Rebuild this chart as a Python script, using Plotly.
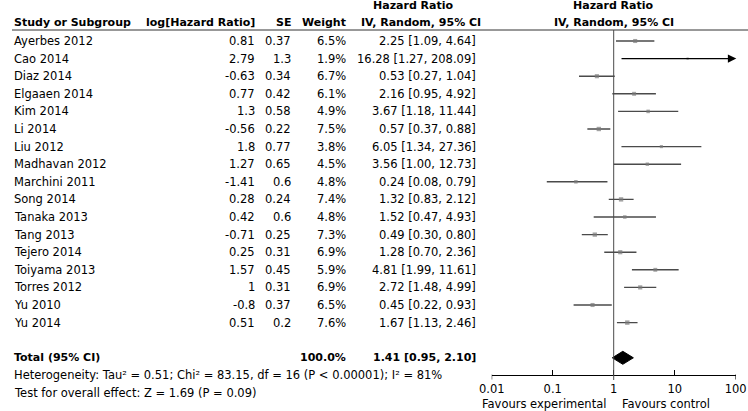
import math
import plotly.graph_objects as go

# ---------------- data ----------------
studies = ["Ayerbes 2012", "Cao 2014", "Diaz 2014", "Elgaaen 2014", "Kim 2014", "Li 2014",
           "Liu 2012", "Madhavan 2012", "Marchini 2011", "Song 2014", "Tanaka 2013",
           "Tang 2013", "Tejero 2014", "Toiyama 2013", "Torres 2012", "Yu 2010", "Yu 2014"]
log_hr = [0.81, 2.79, -0.63, 0.77, 1.3, -0.56, 1.8, 1.27, -1.41, 0.28, 0.42, -0.71, 0.25, 1.57, 1.0, -0.8, 0.51]
se = [0.37, 1.3, 0.34, 0.42, 0.58, 0.22, 0.77, 0.65, 0.6, 0.24, 0.6, 0.25, 0.31, 0.45, 0.31, 0.37, 0.2]
weights = [6.5, 1.9, 6.7, 6.1, 4.9, 7.5, 3.8, 4.5, 4.8, 7.4, 4.8, 7.3, 6.9, 5.9, 6.9, 6.5, 7.6]
hr = [2.25, 16.28, 0.53, 2.16, 3.67, 0.57, 6.05, 3.56, 0.24, 1.32, 1.52, 0.49, 1.28, 4.81, 2.72, 0.45, 1.67]
ci_low = [1.09, 1.27, 0.27, 0.95, 1.18, 0.37, 1.34, 1.00, 0.08, 0.83, 0.47, 0.30, 0.70, 1.99, 1.48, 0.22, 1.13]
ci_high = [4.64, 208.09, 1.04, 4.92, 11.44, 0.88, 27.36, 12.73, 0.79, 2.12, 4.93, 0.80, 2.36, 11.61, 4.99, 0.93, 2.46]

total_hr = 1.41
total_low = 0.95
total_high = 2.10
total_weight = 100.0
heterogeneity_text = "Heterogeneity: Tau² = 0.51; Chi² = 83.15, df = 16 (P < 0.00001); I² = 81%"
overall_text = "Test for overall effect: Z = 1.69 (P = 0.09)"

tick_values = [0.01, 0.1, 1, 10, 100]
tick_labels = ["0.01", "0.1", "1", "10", "100"]
axis_min, axis_max = 0.01, 100

# ---------------- layout helpers ----------------
W, H = 748, 411
ROW0, PITCH = 41.0, 17.6          # pixel of first study row, row pitch
AXIS_PX = 374.5                   # pixel of the bottom axis line
X_LEFT, X_RIGHT = 491.7, 735.7    # pixel of 0.01 and 100


def row_of(py):
    return (py - ROW0) / PITCH


def px(x):
    return x / W


def pyp(y):
    return 1 - y / H


def rp(r):
    return ROW0 + PITCH * r


REG = dict(family="DejaVu Sans", size=11.5, color="#000000")
BOLD = dict(family="DejaVu Sans", size=11, color="#000000", weight="bold")

traces = []
ann = []
shapes = []

n = len(studies)
rows = list(range(n))
total_row = n + 1
het_row = n + 2
test_row = n + 3

# CI lines
for i in rows:
    hi = min(ci_high[i], axis_max)
    if ci_high[i] > axis_max:
        ann.append(dict(x=math.log10(hi) + 0.01, y=i, ax=math.log10(ci_low[i]), ay=i,
                        xref="x", yref="y", axref="x", ayref="y", text="",
                        showarrow=True, arrowhead=2, arrowsize=1.3, arrowwidth=1.3,
                        arrowcolor="#000000", standoff=0))
    else:
        traces.append(go.Scatter(x=[ci_low[i], hi], y=[i, i], mode="lines",
                                 line=dict(color="#4a4a4a", width=1.4),
                                 hoverinfo="skip", showlegend=False))

# point estimates
traces.append(go.Scatter(x=hr, y=rows, mode="markers",
                         marker=dict(symbol="square", color="#7a7a7a",
                                     size=[1.6 * w ** 0.5 for w in weights], line=dict(width=0)),
                         hoverinfo="skip", showlegend=False, cliponaxis=False))

# pooled diamond
dh = 6.5 / PITCH
traces.append(go.Scatter(x=[total_low, total_hr, total_high, total_hr, total_low],
                         y=[total_row, total_row - dh, total_row, total_row + dh, total_row],
                         mode="lines", fill="toself", fillcolor="#000000",
                         line=dict(color="#000000", width=1), hoverinfo="skip", showlegend=False))

# header rule
shapes.append(dict(type="line", xref="paper", yref="paper", x0=px(12), x1=px(748),
                   y0=pyp(30), y1=pyp(30), layer="above", line=dict(color="#333333", width=1)))
# line of no effect
shapes.append(dict(type="line", xref="x", yref="paper", x0=1, x1=1,
                   y0=pyp(30), y1=pyp(380), line=dict(color="#4a4a4a", width=1)))
# downward end ticks
for v in (axis_min, axis_max):
    shapes.append(dict(type="line", xref="x", yref="paper", x0=v, x1=v,
                       y0=pyp(AXIS_PX), y1=pyp(379.5), line=dict(color="#000000", width=1)))


def text(x, y_px, s, anchor, font=REG):
    ann.append(dict(x=px(x), y=pyp(y_px), xref="paper", yref="paper", text=s, showarrow=False,
                    xanchor=anchor, yanchor="middle", font=font))


# headers
text(12, 22.7, "Study or Subgroup", "left", BOLD)
text(257, 22.7, "log[Hazard Ratio]", "right", BOLD)
text(293, 22.7, "SE", "right", BOLD)
text(348, 22.7, "Weight", "right", BOLD)
text(413, 5.7, "Hazard Ratio", "center", BOLD)
text(421, 22.7, "IV, Random, 95% CI", "center", BOLD)
text(613.5, 5.7, "Hazard Ratio", "center", BOLD)
text(613.5, 22.7, "IV, Random, 95% CI", "center", BOLD)

# study rows
for i in rows:
    text(12, rp(i), studies[i], "left")
    text(257, rp(i), f"{log_hr[i]:g}", "right")
    text(293, rp(i), f"{se[i]:g}", "right")
    text(348, rp(i), f"{weights[i]:.1f}%", "right")
    text(478, rp(i), f"{hr[i]:.2f} [{ci_low[i]:.2f}, {ci_high[i]:.2f}]", "right")

# total
text(12, rp(total_row), "Total (95% CI)", "left", BOLD)
text(348, rp(total_row), f"{total_weight:.1f}%", "right", BOLD)
text(478, rp(total_row), f"{total_hr:.2f} [{total_low:.2f}, {total_high:.2f}]", "right", BOLD)
text(12, rp(het_row), heterogeneity_text, "left")
text(12, rp(test_row), overall_text, "left")

# favours labels
text(608, 404, "Favours experimental", "right")
text(620, 404, "Favours control", "left")

layout = go.Layout(
    width=W, height=H, margin=dict(l=0, r=0, t=0, b=0, autoexpand=False),
    paper_bgcolor="#ffffff", plot_bgcolor="#ffffff",
    shapes=shapes, annotations=ann, showlegend=False,
    xaxis=dict(type="log", domain=[X_LEFT / W, X_RIGHT / W], range=[-2, 2],
               showgrid=False, zeroline=False, showline=True, linecolor="#000000", linewidth=1,
               ticks="inside", ticklen=5, tickwidth=1, tickcolor="#000000",
               tickmode="array", tickvals=tick_values, ticktext=tick_labels,
               tickfont=REG, ticklabelstandoff=4, automargin=False),
    yaxis=dict(domain=[1 - AXIS_PX / H, 1], range=[row_of(AXIS_PX), row_of(0)],
               visible=False, showgrid=False, zeroline=False, automargin=False),
)

fig = go.Figure(data=traces, layout=layout)

fig.write_html("out.html", config={"displayModeBar": False},
               post_script="document.body.style.margin='0px';document.body.style.overflow='hidden';")
